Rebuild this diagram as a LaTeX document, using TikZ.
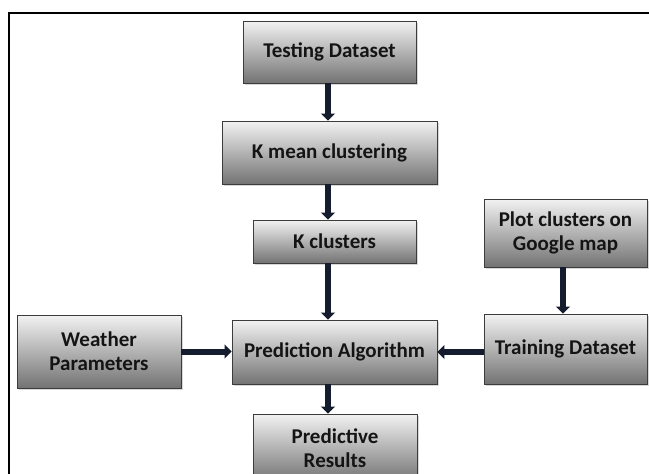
\documentclass[tikz,border=0pt]{standalone}
\usepackage{fontspec}
\setmainfont{Carlito}
\usetikzlibrary{arrows.meta,shadows}
\definecolor{arrowc}{RGB}{20,28,46}
\definecolor{boxline}{RGB}{60,60,60}
\tikzset{
  box/.style={draw=boxline, line width=0.9pt, inner sep=0pt, align=center,
    top color=black!5, middle color=black!16, bottom color=black!55,
    font=\bfseries\fontsize{21}{24}\selectfont, text=black!92,
    drop shadow={shadow xshift=2pt, shadow yshift=-2pt, opacity=0.3}},
  arr/.style={draw=arrowc, line width=6pt,
    -{Triangle[width=14pt,length=7pt]}, arrowc, shorten >=0pt},
  frame/.style={line width=2pt, black}
}
\begin{document}
\begin{tikzpicture}[x=1pt,y=-1pt]
\useasboundingbox (0,0) rectangle (649,474);
\clip (0,0) rectangle (649,474);
\fill[white] (0,0) rectangle (649,474);
\draw[frame] (9,480) -- (9,13) -- (660,13);
% nodes
\node[box, minimum width=173pt, minimum height=62pt] (test) at (329.5,52) {Testing Dataset};
\node[box, minimum width=215pt, minimum height=63pt] (kmean) at (329.5,152.5) {K mean clustering};
\node[box, minimum width=163pt, minimum height=43pt] (kclus) at (334.5,241.5) {K clusters};
\node[box, minimum width=163pt, minimum height=68pt] (plot) at (565.5,233) {Plot clusters on\\Google map};
\node[box, minimum width=164pt, minimum height=73pt] (weather) at (99,351.5) {Weather\\Parameters};
\node[box, minimum width=205pt, minimum height=64pt] (pred) at (334.5,352) {Prediction Algorithm};
\node[box, minimum width=163pt, minimum height=70pt] (train) at (565.5,349) {Training Dataset};
\node[box, minimum width=164pt, minimum height=68pt] (results) at (335,448) {Predictive\\Results};
% arrow guide coordinates
\coordinate (ax) at (328,0);
\coordinate (bx) at (563,0);
% connectors
\draw[arr] (test.south -| ax) -- (kmean.north -| ax);
\draw[arr] (kmean.south -| ax) -- (kclus.north -| ax);
\draw[arr] (kclus.south -| ax) -- (pred.north -| ax);
\draw[arr] (plot.south -| bx) -- (train.north -| bx);
\draw[arr] (weather.east) -- (weather.east -| pred.west);
\draw[arr] (train.west |- pred.west) -- (pred.west -| pred.east);
\draw[arr] (pred.south -| ax) -- (results.north -| ax);
\end{tikzpicture}
\end{document}
